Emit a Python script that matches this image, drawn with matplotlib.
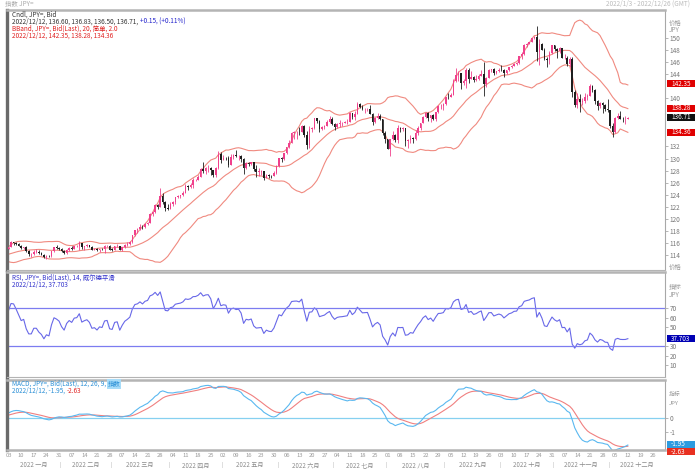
import numpy as np
import pandas as pd
import matplotlib
matplotlib.use("Agg")
import matplotlib.pyplot as plt
import matplotlib.transforms as mtransforms
from matplotlib.patches import Rectangle

plt.rcParams['font.family'] = ['Noto Sans CJK SC', 'DejaVu Sans']

# ---- данные: дневные свечи USD/JPY, 2022-01-03 .. 2022-12-12 ----
dates = pd.bdate_range("2022-01-03", "2022-12-12")
axis_dates = pd.bdate_range("2022-01-03", "2022-12-30")  # шкала уходит дальше данных

opens = [
    # Jan
    115.08, 115.30, 116.12, 116.10, 115.85, 115.55, 115.20, 115.30, 114.65, 114.20, 114.20,
    114.60, 114.60, 114.30, 114.10, 113.70, 113.95, 113.85, 114.65, 115.35, 115.25,
    # Feb
    115.10, 114.65, 114.35, 114.95, 115.25, 115.10, 115.55, 115.60, 116.05, 115.40,
    115.55, 115.65, 115.45, 114.95, 115.00, 114.80, 115.05, 115.00, 115.55, 115.60,
    # Mar
    114.95, 114.90, 115.50, 115.55, 114.85, 115.30, 115.70, 115.90, 116.15, 117.30, 118.15, 118.30,
    118.75, 118.60, 119.20, 119.40, 120.80, 121.20, 122.30, 122.05, 123.80, 122.85, 121.75,
    # Apr
    121.70, 122.55, 122.75, 123.60, 123.80, 123.95, 124.35, 125.40, 125.35, 125.60, 126.40,
    126.45, 126.95, 128.20, 127.90, 128.40, 128.50, 128.15, 127.20, 128.40, 130.80,
    # May
    129.80, 130.15, 130.10, 129.00, 130.25, 130.55, 130.35, 130.45, 129.95, 128.35, 129.25,
    129.15, 129.35, 128.20, 127.80, 127.85, 127.90, 126.85, 127.35, 127.15, 127.10, 127.60,
    # Jun
    128.70, 130.05, 129.90, 130.90, 131.90, 132.60, 134.25, 134.40, 134.45, 134.35, 135.45,
    133.90, 132.20, 134.95, 135.05, 136.65, 136.25, 134.95, 135.20, 135.45, 136.10, 136.60,
    # Jul
    135.75, 135.20, 135.70, 135.85, 135.90, 136.00, 136.10, 137.45, 136.85, 137.40, 138.95,
    138.55, 138.15, 138.20, 138.25, 137.35, 136.10, 136.65, 136.95, 136.55, 134.25,
    # Aug
    133.25, 131.60, 133.15, 133.90, 133.00, 135.00, 134.95, 135.00, 132.90, 133.00, 133.45, 133.30,
    134.20, 135.10, 135.85, 136.90, 137.45, 136.75, 137.15, 136.55, 137.65, 138.70, 138.75,
    # Sep
    138.95, 140.20, 140.15, 140.55, 142.80, 143.80, 144.10, 142.55, 142.85, 144.55, 143.15,
    143.50, 142.95, 143.20, 143.70, 144.05, 142.35, 143.35, 144.70, 144.75, 144.15, 144.45,
    # Oct
    144.70, 144.55, 144.10, 144.60, 145.10, 145.30, 145.70, 145.75, 146.90, 147.20, 148.70,
    149.00, 149.25, 149.85, 150.15, 147.65, 148.95, 148.00, 146.40, 146.25, 147.45,
    # Nov
    148.70, 148.15, 147.85, 148.25, 146.60, 146.65, 145.60, 146.40, 141.00, 138.80, 139.90,
    139.30, 139.50, 140.20, 140.40, 142.05, 141.25, 139.55, 138.60, 139.20, 138.90, 138.15,
    # Dec
    138.05, 135.30, 134.30, 136.75, 137.00, 136.60, 136.55, 136.60,
]
highs = [
    115.40, 116.35, 116.20, 116.15, 116.00, 115.75, 115.35, 115.50, 114.80, 114.30, 114.80,
    115.05, 114.90, 114.60, 114.20, 114.10, 114.05, 114.75, 115.45, 115.70, 115.40,
    115.20, 114.80, 115.00, 115.40, 115.50, 115.60, 115.70, 116.34, 116.10, 115.60,
    115.85, 115.75, 115.55, 115.20, 115.15, 115.10, 115.25, 115.70, 115.75, 115.65,
    115.15, 115.60, 115.80, 115.60, 115.40, 115.80, 116.20, 116.30, 117.35, 118.20, 118.45, 119.10,
    119.00, 119.40, 119.45, 120.95, 121.40, 122.40, 122.45, 125.10, 124.30, 122.95, 122.45,
    122.80, 123.05, 123.70, 124.00, 124.05, 124.60, 125.75, 125.60, 125.90, 126.70, 126.65,
    127.20, 128.50, 129.40, 128.60, 128.85, 128.60, 128.15, 128.60, 131.25, 131.10,
    130.50, 130.30, 130.40, 130.80, 130.80, 131.35, 130.60, 130.50, 130.10, 129.50, 129.45,
    129.40, 129.45, 128.95, 128.40, 128.05, 128.00, 127.50, 127.50, 127.30, 127.95, 128.90,
    130.15, 130.20, 130.95, 131.95, 133.00, 134.45, 134.55, 134.60, 135.20, 135.50, 135.60,
    134.60, 135.45, 135.15, 136.70, 136.70, 136.30, 135.45, 135.60, 136.40, 137.00, 136.85,
    135.95, 135.90, 136.35, 136.00, 136.25, 136.55, 137.75, 137.55, 137.85, 139.38, 139.15,
    138.90, 138.35, 138.40, 138.90, 137.45, 136.90, 137.45, 137.40, 136.60, 134.50,
    133.30, 133.20, 134.55, 134.10, 135.50, 135.15, 135.15, 135.05, 133.20, 133.85, 133.50, 134.65,
    135.35, 135.95, 137.00, 137.70, 137.65, 137.25, 137.30, 137.75, 138.90, 138.95, 139.10,
    140.20, 140.80, 140.80, 143.10, 144.99, 144.40, 144.15, 143.20, 144.95, 144.95, 144.40,
    143.70, 143.75, 143.90, 144.70, 145.90, 143.40, 144.75, 144.85, 144.90, 144.50, 144.90,
    145.40, 144.85, 144.65, 145.10, 145.45, 145.80, 145.90, 146.80, 147.65, 148.85, 149.10,
    149.30, 149.90, 150.30, 151.94, 149.70, 149.10, 148.30, 146.80, 147.85, 148.75,
    148.80, 148.20, 148.40, 148.35, 147.20, 146.90, 146.85, 146.80, 141.25, 140.80, 140.60,
    140.00, 140.80, 140.70, 142.25, 142.20, 141.55, 139.65, 139.30, 139.40, 139.00, 139.90,
    138.10, 135.95, 136.90, 137.50, 137.85, 136.90, 136.95, 136.83,
]
lows = [
    115.00, 115.30, 115.70, 115.65, 115.50, 115.10, 115.00, 114.55, 113.90, 113.75, 114.10,
    114.40, 114.25, 114.00, 113.60, 113.47, 113.65, 113.70, 114.55, 115.05, 114.90,
    114.50, 114.20, 114.15, 114.75, 114.90, 115.00, 115.40, 114.95, 115.00, 114.90,
    115.45, 115.30, 114.85, 114.80, 114.75, 114.50, 114.85, 114.40, 115.30, 114.90,
    114.70, 114.80, 115.35, 114.80, 114.65, 115.15, 115.60, 115.75, 116.05, 117.20, 117.70, 118.20,
    118.40, 118.45, 119.05, 119.35, 120.50, 121.00, 121.70, 122.00, 122.40, 121.30, 121.55,
    121.65, 122.20, 122.40, 123.40, 123.40, 123.80, 124.30, 124.80, 125.10, 125.10, 126.20,
    126.40, 126.90, 127.60, 127.45, 127.80, 127.30, 126.95, 127.00, 128.30, 129.30,
    129.70, 129.80, 128.60, 128.95, 129.95, 130.30, 129.70, 129.50, 127.50, 128.30, 128.80,
    128.90, 128.00, 127.00, 127.05, 127.30, 126.40, 126.75, 126.85, 126.85, 127.10, 127.50,
    128.60, 129.45, 129.80, 130.70, 131.80, 132.50, 133.20, 133.15, 133.95, 134.30, 133.50,
    131.50, 131.75, 134.30, 134.85, 135.80, 134.30, 134.70, 134.90, 135.30, 135.90, 135.55,
    134.75, 135.05, 135.25, 135.30, 135.80, 135.70, 136.10, 136.55, 136.40, 137.30, 138.30,
    138.00, 137.60, 137.80, 137.30, 135.55, 135.95, 136.45, 136.30, 133.90, 132.55,
    131.60, 130.40, 133.00, 132.70, 132.60, 134.40, 134.60, 132.05, 131.75, 132.60, 132.55, 133.10,
    133.95, 134.75, 135.80, 136.70, 136.20, 136.10, 136.40, 136.20, 137.60, 138.20, 138.10,
    138.90, 139.90, 140.10, 140.50, 142.70, 142.75, 141.50, 142.20, 141.65, 142.55, 143.10,
    142.65, 142.80, 143.05, 143.60, 140.35, 141.80, 143.30, 144.35, 143.85, 143.90, 144.30,
    144.40, 143.55, 143.90, 144.40, 144.95, 145.25, 145.45, 145.65, 146.40, 147.10, 148.40,
    148.90, 149.20, 149.80, 146.20, 145.50, 147.95, 146.25, 145.10, 145.70, 147.35,
    147.80, 146.55, 147.50, 146.55, 146.40, 145.30, 145.20, 140.20, 138.50, 138.40, 137.65,
    138.90, 139.25, 139.65, 140.30, 141.00, 139.00, 138.00, 138.30, 137.50, 137.90, 137.70,
    135.05, 133.60, 134.15, 136.50, 136.60, 136.00, 135.75, 136.50,
]
closes = [
    115.30, 116.12, 116.10, 115.85, 115.55, 115.20, 115.30, 114.65, 114.20, 114.20, 114.60,
    114.60, 114.30, 114.10, 113.70, 113.95, 113.85, 114.65, 115.35, 115.25, 115.10,
    114.65, 114.35, 114.95, 115.25, 115.10, 115.55, 115.60, 116.05, 115.40, 115.55,
    115.65, 115.45, 114.95, 115.00, 114.80, 115.05, 115.00, 115.55, 115.60, 114.95,
    114.90, 115.50, 115.55, 114.85, 115.30, 115.70, 115.90, 116.15, 117.30, 118.15, 118.30, 118.75,
    118.60, 119.20, 119.40, 120.80, 121.20, 122.30, 122.05, 123.80, 122.85, 121.75, 121.70,
    122.55, 122.75, 123.60, 123.80, 123.95, 124.35, 125.40, 125.35, 125.60, 126.40, 126.45,
    126.95, 128.20, 127.90, 128.40, 128.50, 128.15, 127.20, 128.40, 130.80, 129.80,
    130.15, 130.10, 129.00, 130.25, 130.55, 130.35, 130.45, 129.95, 128.35, 129.25, 129.15,
    129.35, 128.20, 127.80, 127.85, 127.90, 126.85, 127.35, 127.15, 127.10, 127.60, 128.70,
    130.05, 129.90, 130.90, 131.90, 132.60, 134.25, 134.40, 134.45, 134.35, 135.45, 133.90,
    132.20, 134.95, 135.05, 136.65, 136.25, 134.95, 135.20, 135.45, 136.10, 136.60, 135.75,
    135.20, 135.70, 135.85, 135.90, 136.00, 136.10, 137.45, 136.85, 137.40, 138.95, 138.55,
    138.15, 138.20, 138.25, 137.35, 136.10, 136.65, 136.95, 136.55, 134.25, 133.25,
    131.60, 133.15, 133.90, 133.00, 135.00, 134.95, 135.00, 132.90, 133.00, 133.45, 133.30, 134.20,
    135.10, 135.85, 136.90, 137.45, 136.75, 137.15, 136.55, 137.65, 138.70, 138.75, 138.95,
    140.20, 140.15, 140.55, 142.80, 143.80, 144.10, 142.55, 142.85, 144.55, 143.15, 143.50,
    142.95, 143.20, 143.70, 144.05, 142.35, 143.35, 144.70, 144.75, 144.15, 144.45, 144.70,
    144.55, 144.10, 144.60, 145.10, 145.30, 145.70, 145.75, 146.90, 147.20, 148.70, 149.00,
    149.25, 149.85, 150.15, 147.65, 148.95, 148.00, 146.40, 146.25, 147.45, 148.70,
    148.15, 147.85, 148.25, 146.60, 146.65, 145.60, 146.40, 141.00, 138.80, 139.90, 139.30,
    139.50, 140.20, 140.40, 142.05, 141.25, 139.55, 138.60, 139.20, 138.90, 138.15, 138.05,
    135.30, 134.30, 136.75, 137.00, 136.60, 136.55, 136.56, 136.71,
]
# закрытия ноября-декабря 2021 для разгона индикаторов (на графике не видны)
prior_closes = [
    114.00, 113.95, 114.05, 113.75, 113.40, 112.95, 112.85, 113.90, 114.05, 113.90, 114.15,
    114.80, 114.10, 114.25, 114.00, 114.85, 115.10, 115.40, 115.35, 113.40, 113.50, 113.15,
    112.80, 113.15, 112.80, 113.45, 113.55, 113.70, 113.45, 113.40, 113.55, 113.70, 114.05,
    113.70, 113.70, 113.65, 114.10, 114.10, 114.40, 114.35, 114.85, 114.80, 114.95, 115.10, 115.10,
]

month_names = ["一月", "二月", "三月", "四月", "五月", "六月",
               "七月", "八月", "九月", "十月", "十一月", "十二月"]

price_ticks = [114, 116, 118, 120, 122, 124, 126, 128, 130, 132, 140, 144, 146, 148, 150]
rsi_ticks = [10, 20, 30, 50, 60, 70]   # 40 закрыт плашкой
macd_ticks = [-1, 0]

assert len(dates) == len(opens) == len(highs) == len(lows) == len(closes)

o = np.array(opens); h = np.array(highs); l = np.array(lows); c = np.array(closes)
x = np.arange(len(c))
n0 = len(prior_closes)

# ---- индикаторы по параметрам из легенды ----
s = pd.Series(prior_closes + closes)
bb_mid = s.rolling(20).mean()
bb_sd = s.rolling(20).std(ddof=0)
bb_up = (bb_mid + 2 * bb_sd).values[n0:]
bb_lo = (bb_mid - 2 * bb_sd).values[n0:]
bb_mid = bb_mid.values[n0:]

d = s.diff()
gain = d.clip(lower=0).ewm(alpha=1 / 14, adjust=False).mean()
loss = (-d.clip(upper=0)).ewm(alpha=1 / 14, adjust=False).mean()
rsi = (100 - 100 / (1 + gain / loss)).values[n0:]

macd = s.ewm(span=12, adjust=False).mean() - s.ewm(span=26, adjust=False).mean()
sig = macd.ewm(span=9, adjust=False).mean()
macd = macd.values[n0:]
sig = sig.values[n0:]

# ---- цвета ----
UP = '#f0408c'
DOWN = '#1e1e1e'
BB = '#f08a80'
RSI_C = '#6868e8'
MACD_C = '#5ab8f0'
SIG_C = '#f08080'
FS = 4.6

W_PX, H_PX = 695, 471
fig = plt.figure(figsize=(W_PX / 100, H_PX / 100), dpi=100)
fig.patch.set_facecolor('white')

def rect(top, bottom):
    return [7 / W_PX, 1 - bottom / H_PX, 658 / W_PX, (bottom - top) / H_PX]

ax_p = fig.add_axes(rect(10, 270))
ax_r = fig.add_axes(rect(272, 377))
ax_m = fig.add_axes(rect(380, 450))

for ax in (ax_p, ax_r, ax_m):
    ax.set_xlim(-0.6, 259.7)
    ax.set_xticks([])
    ax.yaxis.tick_right()
    ax.tick_params(axis='y', direction='out', length=2, width=0.5, colors='#999999',
                   labelsize=FS, labelcolor='#777777', pad=1.5)
    ax.spines['left'].set_color('#6a6a6a')
    ax.spines['left'].set_linewidth(2.4)
    ax.spines['top'].set_color('#b4b4b4')
    ax.spines['top'].set_linewidth(1.8)
    ax.spines['right'].set_color('#a8a8a8')
    ax.spines['right'].set_linewidth(0.8)
    ax.spines['bottom'].set_color('#b4b4b4')
    ax.spines['bottom'].set_linewidth(0.8)
ax_m.spines['bottom'].set_linewidth(1.8)

# ---- свечи + Bollinger ----
up = c >= o
cols = np.where(up, UP, DOWN)
ax_p.vlines(x, l, h, colors=cols, lw=0.6, zorder=3)
body = np.maximum(np.abs(c - o), 0.06)
ax_p.bar(x, body, bottom=np.minimum(o, c), width=0.62, color=cols, linewidth=0, zorder=3)
ax_p.plot(x, bb_up, color=BB, lw=0.8, zorder=2)
ax_p.plot(x, bb_mid, color=BB, lw=0.8, zorder=2)
ax_p.plot(x, bb_lo, color=BB, lw=0.8, zorder=2)
ax_p.set_ylim(111.57, 154.55)
ax_p.set_yticks(price_ticks)
ax_p.set_yticklabels([str(t) for t in price_ticks])

# ---- RSI ----
ax_r.plot(x, rsi, color=RSI_C, lw=0.8)
ax_r.axhline(70, color='#7c7cf0', lw=0.9)
ax_r.axhline(30, color='#7c7cf0', lw=0.9)
ax_r.set_ylim(-2.6, 107.9)
ax_r.set_yticks(rsi_ticks)
ax_r.set_yticklabels([str(t) for t in rsi_ticks])

# ---- MACD ----
ax_m.axhline(0, color='#86d0f0', lw=0.9)
ax_m.plot(x, sig, color=SIG_C, lw=0.8)
ax_m.plot(x, macd, color=MACD_C, lw=0.8)
ax_m.set_ylim(-2.29, 2.71)
ax_m.set_yticks(macd_ticks)
ax_m.set_yticklabels([str(t) for t in macd_ticks])


def tag(ax, val, label, color, px_h=7):
    y0, y1 = ax.get_ylim()
    upp = (y1 - y0) / (ax.get_position().height * H_PX)
    tr = mtransforms.blended_transform_factory(ax.transAxes, ax.transData)
    ax.add_patch(Rectangle((1.003, val - px_h * upp / 2), 0.06, px_h * upp, transform=tr,
                           clip_on=False, facecolor=color, edgecolor='none', zorder=6))
    ax.text(1.009, val, label, transform=tr, color='white', fontsize=FS, va='center',
            ha='left', zorder=7, clip_on=False)


tag(ax_p, 142.35, "142.35", '#e00000')
tag(ax_p, 138.28, "138.28", '#e00000')
tag(ax_p, 136.85, "136.71", '#111111')
tag(ax_p, 134.36, "134.36", '#e00000')
tag(ax_r, 37.7, "37.703", '#0000b4')
tag(ax_m, -1.88, "-1.95", '#2c9be0')
tag(ax_m, -2.40, "-2.63", '#e83020')

# подписи в правой колонке
def side(ax, yfrac, txt, fs=FS):
    ax.text(1.006, yfrac, txt, transform=ax.transAxes, fontsize=fs, color='#999999',
            va='center', ha='left', clip_on=False)

side(ax_p, 0.95, "价格")
side(ax_p, 0.923, "JPY")
side(ax_p, 0.012, "价格")
side(ax_r, 0.857, "指标")
side(ax_r, 0.78, "JPY")
side(ax_m, 0.80, "指标", FS - 0.4)
side(ax_m, 0.66, "JPY", FS - 0.4)

# ---- легенды ----
DARK = '#333333'
BLUE = '#2222cc'
RED = '#e02020'
ax_p.text(0.0076, 0.981, "Cndl, JPY=, Bid", transform=ax_p.transAxes, fontsize=FS,
          color=DARK, va='center')
t = ax_p.text(0.0076, 0.954, "2022/12/12, 136.60, 136.83, 136.50, 136.71, ",
              transform=ax_p.transAxes, fontsize=FS, color=DARK, va='center')
ax_p.annotate("+0.15, (+0.11%)", xy=(1, 0.5), xycoords=t, va='center', fontsize=FS, color=BLUE)
ax_p.text(0.0076, 0.927, "BBand, JPY=, Bid(Last), 20, 简单, 2.0", transform=ax_p.transAxes,
          fontsize=FS, color=RED, va='center')
ax_p.text(0.0076, 0.900, "2022/12/12, 142.35, 138.28, 134.36", transform=ax_p.transAxes,
          fontsize=FS, color=RED, va='center')

ax_r.text(0.0076, 0.943, "RSI, JPY=, Bid(Last), 14, 威尔德平滑", transform=ax_r.transAxes,
          fontsize=FS, color='#3333cc', va='center')
ax_r.text(0.0076, 0.876, "2022/12/12, 37.703", transform=ax_r.transAxes,
          fontsize=FS, color='#3333cc', va='center')

MB = '#2a8fd6'
t = ax_m.text(0.0076, 0.943, "MACD, JPY=, Bid(Last), 12, 26, 9, ", transform=ax_m.transAxes,
              fontsize=FS, color=MB, va='center')
ax_m.annotate("指数", xy=(1, 0.5), xycoords=t, va='center', fontsize=FS, color=MB,
              bbox=dict(boxstyle='square,pad=0.1', facecolor='#a8dcf8', edgecolor='none'))
t = ax_m.text(0.0076, 0.843, "2022/12/12, -1.95, ", transform=ax_m.transAxes,
              fontsize=FS, color=MB, va='center')
ax_m.annotate("-2.63", xy=(1, 0.5), xycoords=t, va='center', fontsize=FS, color=RED)

# ---- ось времени ----
trx = mtransforms.blended_transform_factory(ax_m.transData, ax_m.transAxes)
pos = np.arange(len(axis_dates))
for i, dt in zip(pos, axis_dates):
    if dt.weekday() == 0:
        ax_m.text(i, -0.08, f"{dt.day:02d}", transform=trx, fontsize=FS - 0.4, color='#9a9a9a',
                  ha='center', va='center', clip_on=False)
for m in range(1, 13):
    idx = pos[axis_dates.month == m]
    ax_m.text(idx.mean(), -0.22, f"2022 {month_names[m - 1]}", transform=trx, fontsize=FS - 0.2,
              color='#8a8a8a', ha='center', va='center', clip_on=False)
    if m > 1:
        ax_m.text(idx[0] - 0.5, -0.22, "|", transform=trx, fontsize=FS - 0.4, color='#aaaaaa',
                  ha='center', va='center', clip_on=False)

# ---- шапка ----
fig.text(5 / W_PX, 1 - 4 / H_PX, "指数 JPY=", fontsize=FS, color='#aaaaaa', va='center')
fig.text(690 / W_PX, 1 - 4 / H_PX, "2022/1/3 - 2022/12/26 (GMT)", fontsize=FS,
         color='#bbbbbb', va='center', ha='right')

fig.savefig("out.png", dpi=100)
